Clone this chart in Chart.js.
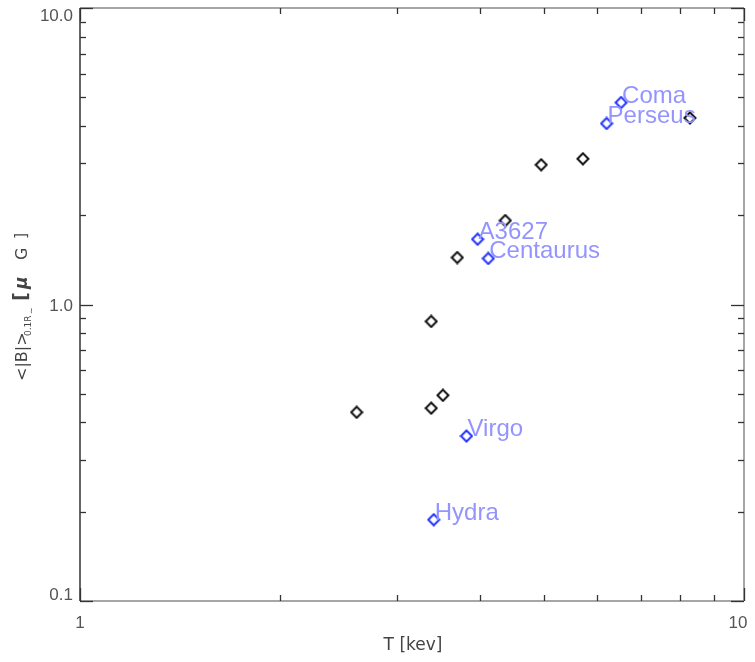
<!DOCTYPE html>
<html><head><meta charset="utf-8">
<script src="https://cdn.jsdelivr.net/npm/chart.js@4/dist/chart.umd.min.js"></script>
<style>html,body{margin:0;padding:0;background:#fff}#wrap{width:755px;height:662px}</style>
</head><body><div id="wrap"><canvas id="c" width="755" height="662"></canvas></div>
<script>
// Data
const blackT = [2.61, 3.38, 3.38, 3.52, 3.70, 4.37, 4.95, 5.72, 8.29];
const blackB = [0.433, 0.877, 0.447, 0.494, 1.44, 1.92, 2.96, 3.10, 4.26];
const namedClusters = ["Coma", "Perseus", "A3627", "Centaurus", "Virgo", "Hydra"];
const namedT = [6.53, 6.21, 3.97, 4.12, 3.82, 3.41];
const namedB = [4.80, 4.08, 1.66, 1.43, 0.360, 0.188];
const xTickLabels = [1, 10];
const yTickLabels = [0.1, 1.0, 10.0];

const blackData = blackT.map((t,i)=>({x:t,y:blackB[i]}));
const namedData = namedT.map((t,i)=>({x:t,y:namedB[i]}));

const diamond = (color)=>{
  const c=document.createElement('canvas');c.width=14;c.height=14;
  const g=c.getContext('2d');g.strokeStyle=color;g.lineWidth=2;
  g.beginPath();g.moveTo(7,1.5);g.lineTo(12.5,7);g.lineTo(7,12.5);g.lineTo(1.5,7);g.closePath();g.stroke();
  return c;
};

const decorPlugin = {
  id:'decor',
  afterDatasetsDraw(chart){
    const ctx=chart.ctx, xs=chart.scales.x, ys=chart.scales.y, a=chart.chartArea;
    ctx.save();
    // frame
    ctx.lineWidth=1.5;
    ctx.strokeStyle='#888';
    ctx.beginPath();ctx.moveTo(a.left,a.bottom);ctx.lineTo(a.right,a.bottom);ctx.stroke();
    ctx.beginPath();ctx.moveTo(a.left,a.top);ctx.lineTo(a.right,a.top);ctx.stroke();
    ctx.beginPath();ctx.moveTo(a.right,a.top);ctx.lineTo(a.right,a.bottom);ctx.stroke();
    ctx.strokeStyle='#333';
    ctx.beginPath();ctx.moveTo(a.left,a.top);ctx.lineTo(a.left,a.bottom);ctx.stroke();
    // ticks
    ctx.strokeStyle='#333';ctx.lineWidth=1.3;
    const xt=[1,2,3,4,5,6,7,8,9,10];
    xt.forEach(v=>{
      const px=Math.round(xs.getPixelForValue(v))+0.5;
      const L=(v===1||v===10)?13:6;
      ctx.beginPath();ctx.moveTo(px,a.bottom);ctx.lineTo(px,a.bottom-L);ctx.stroke();
      ctx.beginPath();ctx.moveTo(px,a.top);ctx.lineTo(px,a.top+L);ctx.stroke();
    });
    const yt=[];
    [0.1,1].forEach(d=>{for(let k=1;k<10;k++)yt.push(d*k);});yt.push(10);
    yt.forEach(v=>{
      const py=Math.round(ys.getPixelForValue(v))+0.5;
      const major=Math.abs(Math.log10(v)-Math.round(Math.log10(v)))<1e-6;
      const L=major?13:6;
      ctx.beginPath();ctx.moveTo(a.left,py);ctx.lineTo(a.left+L,py);ctx.stroke();
      ctx.beginPath();ctx.moveTo(a.right,py);ctx.lineTo(a.right-L,py);ctx.stroke();
    });
    // tick labels
    ctx.fillStyle='#555';
    ctx.font='17px "Liberation Sans", sans-serif';
    ctx.textBaseline='middle';
    ctx.textAlign='right';
    yTickLabels.forEach(v=>{
      let py=ys.getPixelForValue(v);
      if(v===10) py+=8; else if(v===0.1) py-=6; else py+=2;
      ctx.fillText(v.toFixed(1), a.left-7, py);
    });
    ctx.textAlign='center';
    xTickLabels.forEach(v=>{
      let px=xs.getPixelForValue(v);
      if(v===10) px-=6;
      ctx.fillText(String(v), px, a.bottom+22);
    });
    // cluster labels
    ctx.fillStyle='#9494ff';
    ctx.font='24px "Liberation Sans", sans-serif';
    ctx.textAlign='left';ctx.textBaseline='alphabetic';
    namedData.forEach((p,i)=>{
      const px=xs.getPixelForValue(p.x), py=ys.getPixelForValue(p.y);
      ctx.fillText(namedClusters[i], px+1, py);
    });
    // x title
    ctx.fillStyle='#444';
    ctx.font='17px "DejaVu Sans", sans-serif';
    ctx.textAlign='center';ctx.textBaseline='middle';
    ctx.fillText('T [kev]', 413, 646);
    ctx.translate(23, 381);ctx.rotate(-Math.PI/2);
    ctx.textAlign='left';ctx.textBaseline='middle';
    const put=(txt,font,x,dy)=>{ctx.font=font;ctx.fillText(txt,x,dy);};
    put('<|B|>','16px "DejaVu Sans", sans-serif',0,0);
    put('0.1R','9px "DejaVu Sans", sans-serif',45,6);
    put('\u223C','8px "DejaVu Sans", sans-serif',67,9);
    put('[','bold 19px "DejaVu Sans", sans-serif',80,-1);
    put('\u03BC','bold italic 17px "DejaVu Sans", sans-serif',92,0);
    put('G','16px "DejaVu Sans", sans-serif',121,0);
    put(']','16px "DejaVu Sans", sans-serif',142,-1);
    ctx.restore();
  }
};

new Chart(document.getElementById('c'),{
  type:'scatter',
  data:{datasets:[
    {data:blackData,pointStyle:diamond('#111'),pointRadius:7,pointHoverRadius:7},
    {data:namedData,pointStyle:diamond('#2233ff'),pointRadius:7,pointHoverRadius:7}
  ]},
  options:{
    responsive:false,animation:false,
    layout:{padding:{top:7,right:11,left:0,bottom:0}},
    plugins:{legend:{display:false},tooltip:{enabled:false}},
    scales:{
      x:{type:'logarithmic',min:1,max:10,
        border:{display:false},grid:{display:false,drawTicks:false},
        ticks:{display:false},
        afterFit(s){s.height=61;}},
      y:{type:'logarithmic',min:0.1,max:10,
        border:{display:false},grid:{display:false,drawTicks:false},
        ticks:{display:false},
        afterFit(s){s.width=80;}}
    }
  },
  plugins:[decorPlugin]
});
</script></body></html>
